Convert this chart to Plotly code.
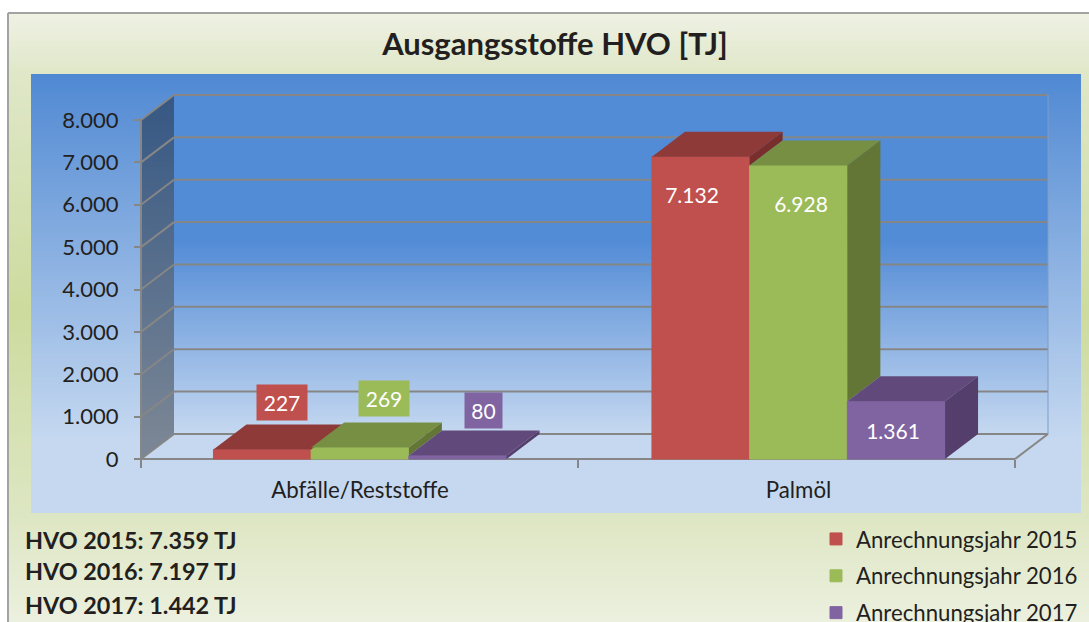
import plotly.graph_objects as go

# ---------- data ----------
categories = ["Abfälle/Reststoffe", "Palmöl"]
years = ["Anrechnungsjahr 2015", "Anrechnungsjahr 2016", "Anrechnungsjahr 2017"]
values_2015 = [227, 7132]
values_2016 = [269, 6928]
values_2017 = [80, 1361]
y_ticks = [0, 1000, 2000, 3000, 4000, 5000, 6000, 7000, 8000]
y_labels = ["0", "1.000", "2.000", "3.000", "4.000", "5.000", "6.000", "7.000", "8.000"]
summary = ["HVO 2015: 7.359 TJ", "HVO 2016: 7.197 TJ", "HVO 2017: 1.442 TJ"]
title = "Ausgangsstoffe HVO [TJ]"

# ---------- geometry (pixels of the picture) ----------
W, H = 1089, 622
P_L, P_R, P_T, P_B = 31, 1081, 74, 513      # blue panel = plot area
CAT0_PX, CAT_STEP = 360.0, 438.5
Y0_PX, Y8K_PX = 459.0, 120.0
PX_PER_UNIT = (Y0_PX - Y8K_PX) / 8000
DEPTH_X_PX, DEPTH_Y_PX = 33.0, 25.0
FRONT_L_PX, FRONT_MID_PX, FRONT_R_PX = 141.0, 578.0, 1015.0
BAR_W_PX = 97.7


def xd(px):
    return (px - CAT0_PX) / CAT_STEP


def yd(px):
    return (Y0_PX - px) / PX_PER_UNIT


DX = DEPTH_X_PX / CAT_STEP
DY = DEPTH_Y_PX / PX_PER_UNIT
BAR_W = BAR_W_PX / CAT_STEP
FONT = "Lato, Carlito, sans-serif"
TXT = "#231f20"
GRID = "#868686"


def lerp_stops(stops, p):
    if p <= stops[0][0]:
        return stops[0][1]
    for (a, ca), (b, cb) in zip(stops, stops[1:]):
        if p <= b:
            t = (p - a) / (b - a)
            return tuple(ca[i] + (cb[i] - ca[i]) * t for i in range(3))
    return stops[-1][1]


def rgb(c):
    return "rgb(%d,%d,%d)" % tuple(round(v) for v in c)


shapes = []


def bands(x0, x1, y0, y1, stops, step=3):
    """Vertical gradient made of thin rectangles, in picture pixels."""
    p = y0
    while p < y1:
        q = min(p + step, y1)
        shapes.append(dict(type="rect", xref="paper", yref="paper", layer="below",
                           x0=x0 / W, x1=x1 / W, y0=1 - min(q + 1, y1) / H, y1=1 - p / H,
                           fillcolor=rgb(lerp_stops(stops, p + step / 2)), line_width=0))
        p = q


# outer green frame
bands(9, W, 14, H, [(14, (239, 241, 227)), (75, (223, 231, 200)), (311, (205, 219, 158)),
                    (513, (221, 230, 194)), (622, (236, 240, 223))])
shapes.append(dict(type="line", xref="paper", yref="paper", layer="below", x0=8 / W, x1=1, y0=1 - 13 / H, y1=1 - 13 / H,
                   line=dict(color="#a3a3a3", width=2)))
shapes.append(dict(type="line", xref="paper", yref="paper", layer="below", x0=8 / W, x1=8 / W, y0=0, y1=1 - 13 / H,
                   line=dict(color="#a3a3a3", width=2)))
# blue panel
bands(P_L, P_R, P_T, P_B, [(74, (80, 137, 211)), (440, (197, 216, 240))])
# back wall
bands(FRONT_L_PX + DEPTH_X_PX, FRONT_R_PX + DEPTH_X_PX, Y8K_PX - DEPTH_Y_PX, Y0_PX - DEPTH_Y_PX,
      [(95, (82, 139, 214)), (240, (82, 139, 214)), (434, (197, 216, 240))])


def path(points):
    return "M " + " L ".join(f"{x:.5f},{y:.3f}" for x, y in points) + " Z"


xl, xr = xd(FRONT_L_PX), xd(FRONT_R_PX)
# side wall
shapes.append(dict(type="path", xref="x", yref="y", layer="below", line_width=0, fillcolor="rgba(0,0,0,0.38)",
                   path=path([(xl, 0), (xl + DX, DY), (xl + DX, 8000 + DY), (xl, 8000)])))
# floor
shapes.append(dict(type="path", xref="x", yref="y", layer="below", line_width=0, fillcolor="#c5d8f0",
                   path=path([(xl, 0), (xl + DX, DY), (xr + DX, DY), (xr, 0)])))
# gridlines: along the side wall and along the back wall
for t in y_ticks:
    shapes.append(dict(type="line", xref="x", yref="y", layer="below", x0=xl, y0=t, x1=xl + DX, y1=t + DY,
                       line=dict(color=GRID, width=2)))
    shapes.append(dict(type="line", xref="x", yref="y", layer="below", x0=xl + DX, y0=t + DY, x1=xr + DX, y1=t + DY,
                       line=dict(color=GRID, width=2)))
shapes.append(dict(type="line", xref="x", yref="y", layer="below", x0=xl, y0=0, x1=xl, y1=8000,
                   line=dict(color=GRID, width=2)))
shapes.append(dict(type="line", xref="x", yref="y", layer="below", x0=xl, y0=0, x1=xr, y1=0,
                   line=dict(color=GRID, width=2)))
shapes.append(dict(type="line", xref="x", yref="y", layer="below", x0=xr, y0=0, x1=xr + DX, y1=DY,
                   line=dict(color=GRID, width=2)))
shapes.append(dict(type="line", xref="x", yref="y", layer="below", x0=xr + DX, y0=DY, x1=xr + DX, y1=8000 + DY,
                   line=dict(color="#7f9dc5", width=1)))

series = [values_2015, values_2016, values_2017]
front = ["#C0504D", "#9BBB59", "#8064A2"]
top = ["#8E3A38", "#768F42", "#614A7B"]
side = ["#7A2E2C", "#647636", "#543F6C"]

fig = go.Figure()
for i, vals in enumerate(series):
    fig.add_trace(go.Bar(x=[0, 1], y=vals, name=years[i], marker=dict(color=front[i], line=dict(color=front[i], width=1)),
                         hoverinfo="skip", legendgroup=years[i]))

# 3-D faces, derived from the same values
for c in range(2):
    for i, vals in enumerate(series):
        v = vals[c]
        x0 = c + (i - 1.5) * BAR_W
        x1 = x0 + BAR_W
        nxt = series[i + 1][c] if i + 1 < 3 else 0
        low = min(v, nxt)
        fig.add_trace(go.Scatter(x=[x0, x1, x1 + DX, x0 + DX, x0], y=[v, v, v + DY, v + DY, v], mode="lines",
                                 fill="toself", fillcolor=top[i], line=dict(width=0), showlegend=False, hoverinfo="skip"))
        fig.add_trace(go.Scatter(x=[x1, x1 + DX, x1 + DX, x1, x1], y=[v, v + DY, low + DY, low, v], mode="lines",
                                 fill="toself", fillcolor=side[i], line=dict(width=0), showlegend=False, hoverinfo="skip"))

# value labels: (x offset px, y offset px, box width)
label_pos = [[(20, 47, 48), (-9, -38, 60)], [(24, 49, 48), (2, -38, 60)], [(25.5, 45, 35), (-3, -29, 60)]]
annotations = []
for i, vals in enumerate(series):
    for c, v in enumerate(vals):
        xs, ys, bw = label_pos[i][c]
        annotations.append(dict(x=c + (i - 1) * BAR_W, y=v, xref="x", yref="y", text=f"{v:,}".replace(",", "."),
                                showarrow=False, xshift=xs, yshift=ys, bgcolor=front[i], width=bw, height=33,
                                align="center", valign="middle", yanchor="middle",
                                font=dict(family=FONT, size=21, color="white")))
# summary text
for s, py in zip(summary, [540, 571, 605]):
    annotations.append(dict(x=23 / W, y=1 - py / H, xref="paper", yref="paper", text=f"<b>{s}</b>", showarrow=False,
                            xanchor="left", yanchor="middle", font=dict(family=FONT, size=23.4, color=TXT)))

fig.update_layout(
    width=W, height=H, margin=dict(l=0, r=0, t=0, b=0, autoexpand=False),
    paper_bgcolor="white", plot_bgcolor="rgba(0,0,0,0)",
    barmode="group", bargap=1 - 3 * BAR_W, bargroupgap=0,
    title=dict(text=f"<b>{title}</b>", x=555 / W, y=1 - 44 / H, xanchor="center", yanchor="middle",
               font=dict(family=FONT, size=31, color=TXT)),
    xaxis=dict(domain=[P_L / W, P_R / W], range=[xd(P_L), xd(P_R)], anchor="free", position=1 - Y0_PX / H,
               tickmode="array", tickvals=[0, 1], ticktext=categories, ticks="", showgrid=False, zeroline=False,
               showline=False, tickfont=dict(family=FONT, size=22.3, color=TXT), ticklabelstandoff=16,
               minor=dict(tickmode="array", tickvals=[xl, xd(FRONT_MID_PX), xr], ticks="outside", ticklen=8,
                          tickcolor=GRID, tickwidth=1.5, showgrid=False)),
    yaxis=dict(domain=[1 - P_B / H, 1 - P_T / H], range=[yd(P_B), yd(P_T)], anchor="free", position=FRONT_L_PX / W,
               tickmode="array", tickvals=y_ticks, ticktext=y_labels, ticks="outside", ticklen=7, tickcolor=GRID,
               tickwidth=2, showgrid=False, zeroline=False, showline=False, ticklabelstandoff=11,
               tickfont=dict(family=FONT, size=22, color=TXT)),
    legend=dict(x=816 / W, y=1 - 518 / H, xanchor="left", yanchor="top", tracegroupgap=5, traceorder="grouped",
                bgcolor="rgba(0,0,0,0)", font=dict(family=FONT, size=22.2, color=TXT), itemclick=False),
    showlegend=True, shapes=shapes, annotations=annotations,
)
fig.write_html("out.html", config=dict(displayModeBar=False),
               post_script="document.body.style.margin='0';document.documentElement.style.overflow='hidden';")
